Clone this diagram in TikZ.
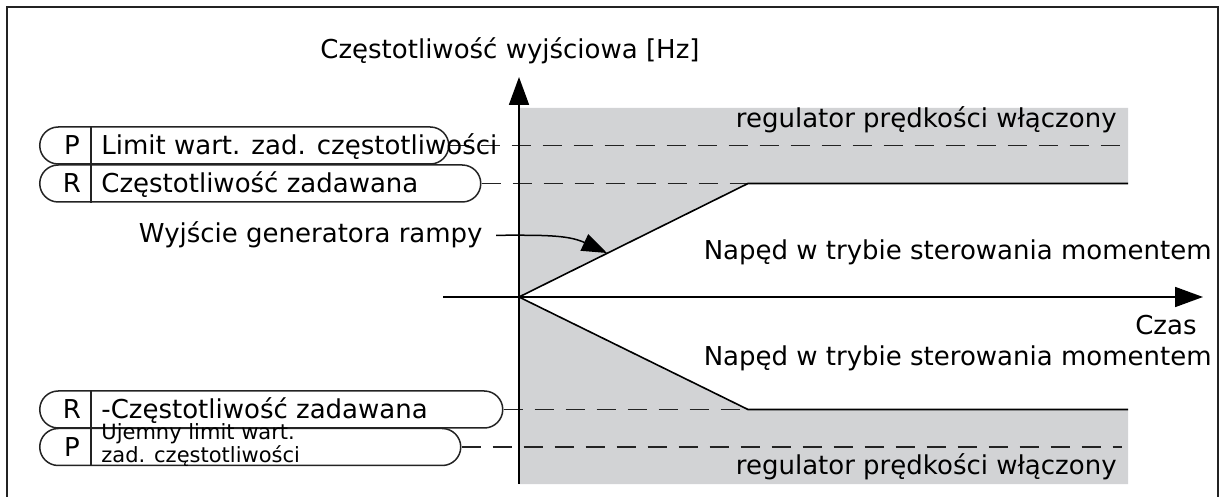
\documentclass[tikz,border=0pt]{standalone}
\usepackage{fontspec}
\setmainfont{DejaVu Sans}
\usepackage{tikz}
\usetikzlibrary{
  arrows.meta,
  positioning,
  shapes.misc
}
\definecolor{zonegray}{RGB}{210,211,213}
\definecolor{inkgray}{RGB}{35,35,35}
\tikzset{
  zone/.style={fill=zonegray,draw=none},
  trace/.style={draw=black,line width=0.8pt},
  axis/.style={-{Triangle[length=14pt,width=10pt]},line width=0.9pt,draw=black},
  guide/.style={draw=inkgray,line width=0.8pt,dash pattern=on 9.5pt off 6pt},
  parbox/.style={draw=inkgray,line width=0.75pt,rounded rectangle,
    minimum height=18.5pt,inner sep=0pt,anchor=west},
  divider/.style={draw=inkgray,line width=0.75pt},
  tag/.style={font=\fontsize{13}{15}\selectfont,inner sep=0pt,anchor=base},
  lab/.style={font=\fontsize{13}{15}\selectfont,inner sep=0pt},
  smalllab/.style={font=\fontsize{10.5}{8.8}\selectfont,inner sep=0pt,
    align=left,anchor=west},
  pointer/.style={-{Triangle[length=12.5pt,width=9pt]},line width=0.75pt,draw=black}
}

\begin{document}
\begin{tikzpicture}[x=0.5pt,y=-0.5pt]
  \useasboundingbox (0,0) rectangle (1222,497);
  \draw[inkgray,line width=1pt] (7,520) -- (7,7) -- (1218,7) -- (1218,520);
  \coordinate (origin) at (519,297);
  \coordinate (ytop) at (519,77);
  \coordinate (ybot) at (519,484);
  \coordinate (xbeg) at (443,297);
  \coordinate (xend) at (1203,297);
  \coordinate (rampup) at (748,183.5);
  \coordinate (rampdn) at (748,409.5);
  \coordinate (zoneend) at (1128,0);
  \coordinate (guideend) at (1122,0);
  \coordinate (divx) at (91,0);
  \coordinate (ramptip) at (607,253);
  % speed controller zones
  \fill[zone] (519,108) -- (1128,108) -- (rampup -| zoneend) -- (rampup) -- (origin) -- cycle;
  \fill[zone] (origin) -- (rampdn) -- (rampdn -| zoneend) -- (1128,484) -- (ybot) -- cycle;
  % parameter boxes
  \node[parbox,minimum width=204.5pt] (plim) at (39,145.5) {};
  \node[parbox,minimum width=220.5pt] (fref) at (39,183.5) {};
  \node[parbox,minimum width=231.5pt] (nfref) at (39,409.5) {};
  \node[parbox,minimum width=210.5pt] (nlim) at (39,447) {};
  \foreach \b in {plim,fref,nfref,nlim}
    \draw[divider] (\b.north -| divx) -- (\b.south -| divx);
  \draw[guide] (plim.east) -- (plim.east -| guideend);
  \draw[guide] (fref.east) -- (rampup);
  \draw[guide] (nfref.east) -- (rampdn);
  \draw[guide] (nlim.east) -- (nlim.east -| guideend);
  \draw[trace] (origin) -- (rampup) -- (rampup -| zoneend);
  \draw[trace] (origin) -- (rampdn) -- (rampdn -| zoneend);
  \draw[axis] (ybot) -- (ytop);
  \draw[axis] (xbeg) -- (xend);
  \node[tag] (plet) at (72,155) {P};
  \node[lab,anchor=base west] (ptxt) at (101,155) {Limit wart. zad. częstotliwości};
  \node[tag] (rlet) at (72,193) {R};
  \node[lab,anchor=base west] (rtxt) at (101,193) {Częstotliwość zadawana};
  \node[tag] (nrlet) at (72,419) {R};
  \node[lab,anchor=base west] (nrtxt) at (101,419) {-Częstotliwość zadawana};
  \node[tag] (nplet) at (72,457) {P};
  \node[smalllab] (nptxt) at (101,445) {Ujemny limit wart.\\zad. częstotliwości};
  \node[lab,anchor=base west] (yname) at (320,59) {Częstotliwość wyjściowa [Hz]};
  \node[lab,anchor=base east] (spdup) at (1117,128) {regulator prędkości włączony};
  \node[lab,anchor=base east] (trqup) at (1212,260) {Napęd w trybie sterowania momentem};
  \node[lab,anchor=base east] (tname) at (1197,335) {Czas};
  \node[lab,anchor=base east] (trqdn) at (1212,365) {Napęd w trybie sterowania momentem};
  \node[lab,anchor=base east] (spddn) at (1117,474) {regulator prędkości włączony};
  \node[lab,anchor=base east,inner xsep=6.5pt] (ramp) at (496,243) {Wyjście generatora rampy};
  \draw[pointer] (ramp.east) to[out=0,in=155] (ramptip);
\end{tikzpicture}
\end{document}
